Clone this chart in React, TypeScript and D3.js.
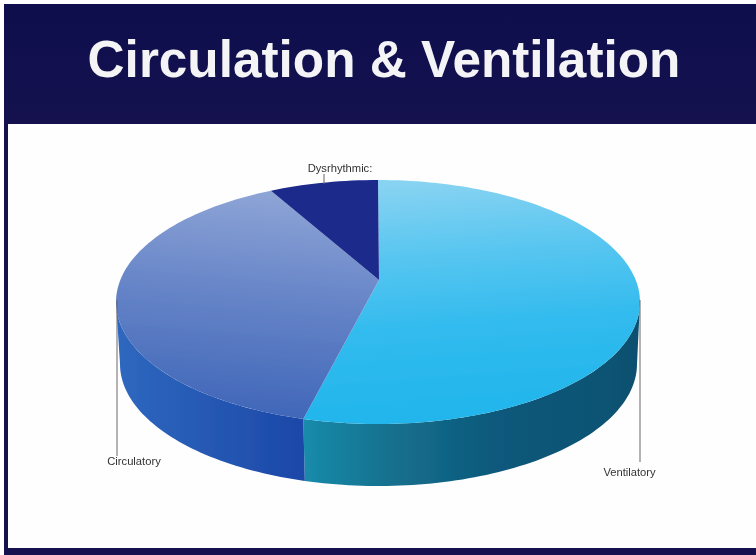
import React from "react";
import * as d3 from "d3";

const categories = ["Ventilatory", "Circulatory", "Dysrhythmic"];
const shares = [54.6, 38.7, 6.7];
const title = "Circulation & Ventilation";

const W = 756, H = 555;
const topX = d3.scaleLinear().domain([-1, 1]).range([116, 640]);
const topY = d3.scaleLinear().domain([-1, 1]).range([424, 180]);
const botX = d3.scaleLinear().domain([-1, 1]).range([120, 637]);
const botY = d3.scaleLinear().domain([-1, 1]).range([486, 242]);
const apex: [number, number] = [379, 280];

const arcs = d3.pie<number>().sort(null)(shares);
const line = d3.line();
const samples = (a: number, b: number) => {
  const n = Math.max(2, Math.ceil((b - a) * 40));
  return d3.range(n + 1).map((i) => a + ((b - a) * i) / n);
};
const rim = (a: number, b: number, xs: any, ys: any): [number, number][] =>
  samples(a, b).map((t) => [xs(Math.sin(t)), ys(Math.cos(t))]);

const faces = ["url(#vTop)", "url(#cTop)", "#1c2a8c"];
const sides = ["url(#vSide)", "url(#cSide)", "#1c2a8c"];

const labelSpec = [
  { text: categories[0], x: 629.5, y: 476, lead: [640, 300, 640, 462] },
  { text: categories[1], x: 134, y: 465, lead: [117, 300, 117, 456] },
  { text: "Dysrhythmic:", x: 340, y: 172, lead: [324, 174, 324, 184] },
];

export default function App() {
  return (
    <svg width={W} height={H} style={{ position: "absolute", left: 0, top: 0 }}>
      <defs>
        <linearGradient id="header" x1="0" y1="0" x2="0" y2="1">
          <stop offset="0" stopColor="#0e0e4c" />
          <stop offset="1" stopColor="#15114f" />
        </linearGradient>
        <linearGradient id="vTop" x1="0.4" y1="0" x2="0.5" y2="1">
          <stop offset="0" stopColor="#88d3f2" />
          <stop offset="0.3" stopColor="#58c6f0" />
          <stop offset="0.6" stopColor="#32bbee" />
          <stop offset="1" stopColor="#1fb5ec" />
        </linearGradient>
        <linearGradient id="cTop" x1="0.6" y1="0" x2="0.5" y2="1">
          <stop offset="0" stopColor="#8ea5d6" />
          <stop offset="0.45" stopColor="#6785c8" />
          <stop offset="1" stopColor="#3f66b8" />
        </linearGradient>
        <linearGradient id="vSide" x1="0" y1="0" x2="1" y2="0">
          <stop offset="0" stopColor="#1a8bab" />
          <stop offset="0.25" stopColor="#14718f" />
          <stop offset="0.55" stopColor="#0f5a7c" />
          <stop offset="1" stopColor="#0e5070" />
        </linearGradient>
        <linearGradient id="cSide" x1="0" y1="0" x2="1" y2="0">
          <stop offset="0" stopColor="#2f68bf" />
          <stop offset="1" stopColor="#1b48a8" />
        </linearGradient>
        <filter id="soft" x="-5%" y="-5%" width="110%" height="110%">
          <feGaussianBlur stdDeviation="0.7" />
        </filter>
        <filter id="softText" x="-5%" y="-20%" width="110%" height="140%">
          <feGaussianBlur stdDeviation="0.45" />
        </filter>
      </defs>

      <rect width={W} height={H} fill="#ffffff" />
      <rect x={4} y={4} width={W - 4} height={H - 4} fill="#15124f" />
      <rect x={4} y={4} width={W - 4} height={119} fill="url(#header)" />
      <rect x={8} y={124} width={W - 8} height={424} fill="#fefefe" />

      <text
        x={384}
        y={77}
        textAnchor="middle"
        fontFamily="'Liberation Sans', Arial, sans-serif"
        fontWeight={700}
        fontSize={51.3}
        fill="#f4f4f6"
        filter="url(#softText)"
      >
        {title}
      </text>

      <g filter="url(#soft)">
        {arcs.map((a, i) => {
          const s = Math.max(a.startAngle, Math.PI / 2);
          const e = Math.min(a.endAngle, (3 * Math.PI) / 2);
          if (e <= s) return null;
          const pts = [...rim(s, e, topX, topY), ...rim(s, e, botX, botY).reverse()];
          return <path key={"s" + i} d={line(pts) + "Z"} fill={sides[i]} />;
        })}
        {arcs.map((a, i) => (
          <path
            key={"t" + i}
            d={line([apex, ...rim(a.startAngle, a.endAngle, topX, topY)]) + "Z"}
            fill={faces[i]}
          />
        ))}
      </g>

      {labelSpec.map((l) => (
        <g key={l.text}>
          <line
            x1={l.lead[0]}
            y1={l.lead[1]}
            x2={l.lead[2]}
            y2={l.lead[3]}
            stroke="#6f6468"
            strokeWidth={1}
          />
          <text
            x={l.x}
            y={l.y}
            textAnchor="middle"
            fontFamily="'Liberation Sans', Arial, sans-serif"
            fontSize={11.2}
            fill="#333"
            filter="url(#softText)"
          >
            {l.text}
          </text>
        </g>
      ))}
    </svg>
  );
}
